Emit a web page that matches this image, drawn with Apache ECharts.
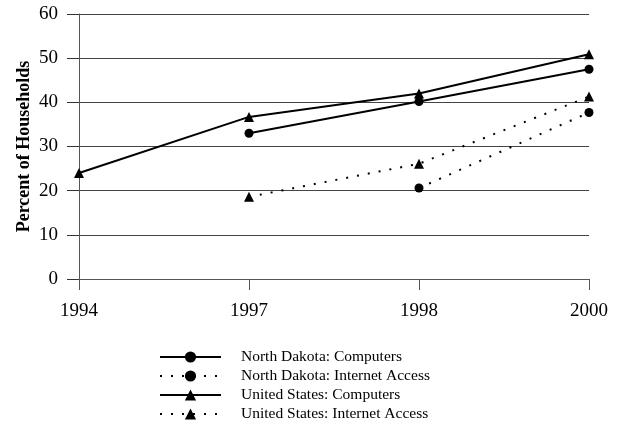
<!DOCTYPE html>
<html>
<head>
<meta charset="utf-8">
<script src="https://cdn.jsdelivr.net/npm/echarts@6/dist/echarts.min.js"></script>
<style>
  html, body { margin: 0; padding: 0; background: #fff; }
  #chart { width: 619px; height: 439px; }
</style>
</head>
<body>
<div id="chart"></div>
<script>
var years = ['1994', '1997', '1998', '2000'];
var yTicks = [0, 10, 20, 30, 40, 50, 60];
var ndComputers = [null, 33, 40.2, 47.5];
var ndInternet = [null, null, 20.6, 37.7];
var usComputers = [24, 36.7, 42, 50.9];
var usInternet = [null, 18.6, 26.1, 41.3];

var serif = '"Liberation Serif", "DejaVu Serif", serif';

function mkSeries(name, data, symbol, dotted) {
    return {
        name: name,
        type: 'line',
        data: data,
        symbol: symbol,
        symbolSize: symbol == 'circle' ? 9 : 10,
        showAllSymbol: true,
        connectNulls: false,
        itemStyle: { color: '#000' },
        lineStyle: {
            color: '#000',
            width: 2,
            type: dotted ? [2, 9] : 'solid'
        },
        emphasis: { disabled: true },
        animation: false
    };
}

var chart = echarts.init(document.getElementById('chart'));
var option = {
    backgroundColor: '#fff',
    animation: false,
    grid: { left: 79, right: 30, top: 14, bottom: 160, containLabel: false },
    legend: {
        orient: 'vertical',
        left: 154,
        top: 344,
        itemWidth: 61,
        itemHeight: 14,
        itemGap: 3,
        textStyle: { fontFamily: serif, fontSize: 15.5, color: '#000', padding: [0, 0, 0, 15] },
        data: [
            'North Dakota: Computers',
            'North Dakota: Internet Access',
            'United States: Computers',
            'United States: Internet Access'
        ]
    },
    xAxis: {
        type: 'category',
        data: years,
        boundaryGap: false,
        axisLine: { lineStyle: { color: '#555', width: 1 } },
        axisTick: { show: true, length: 11, lineStyle: { color: '#555' } },
        axisLabel: { fontFamily: serif, fontSize: 19, color: '#000', margin: 23 },
        splitLine: { show: false }
    },
    yAxis: {
        type: 'value',
        min: yTicks[0],
        max: yTicks[yTicks.length - 1],
        interval: 10,
        name: 'Percent of Households',
        nameLocation: 'middle',
        nameGap: 46,
        nameMoveOverlap: false,
        nameTextStyle: { fontFamily: serif, fontSize: 18, fontWeight: 'bold', color: '#000' },
        axisLine: { show: true, lineStyle: { color: '#555', width: 1 } },
        axisTick: { show: true, length: 12, lineStyle: { color: '#333', width: 1 } },
        axisLabel: { fontFamily: serif, fontSize: 19, color: '#000', margin: 21 },
        splitLine: { show: true, lineStyle: { color: '#444', width: 1 } }
    },
    series: [
        mkSeries('North Dakota: Computers', ndComputers, 'circle', false),
        mkSeries('North Dakota: Internet Access', ndInternet, 'circle', true),
        mkSeries('United States: Computers', usComputers, 'triangle', false),
        mkSeries('United States: Internet Access', usInternet, 'triangle', true)
    ]
};
chart.setOption(option);
</script>
</body>
</html>
